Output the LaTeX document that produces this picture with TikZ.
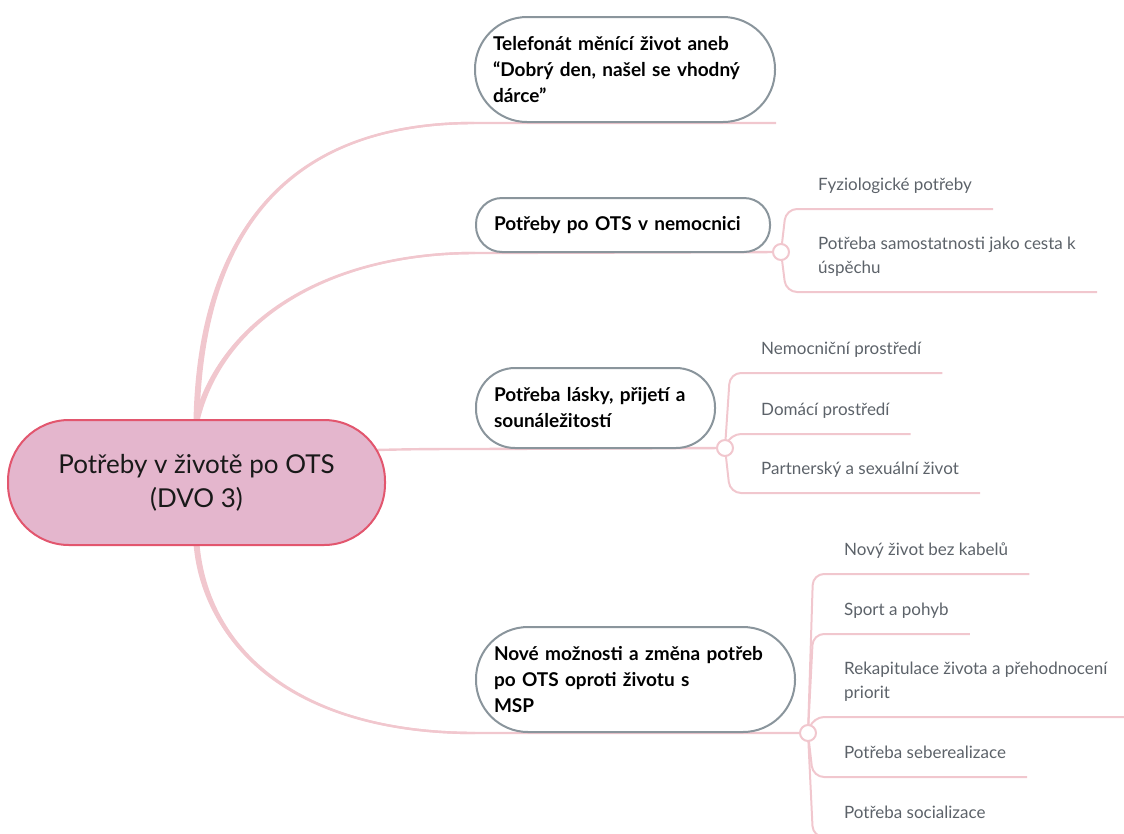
\documentclass[tikz,border=0pt]{standalone}
\usepackage{fontspec}
\setmainfont{Lato}
\usetikzlibrary{calc}
\pgfdeclarelayer{bg}
\pgfsetlayers{bg,main}
\definecolor{lnk}{RGB}{241,199,206}
\definecolor{rootfill}{RGB}{228,182,205}
\definecolor{rootline}{RGB}{226,86,110}
\definecolor{topicline}{RGB}{138,149,156}
\definecolor{subtext}{RGB}{92,98,105}
\begin{document}
\begin{tikzpicture}[x=1pt,y=-1pt,
  rootbox/.style={draw=rootline, fill=rootfill, line width=2pt, rounded corners=61pt,
    minimum width=377pt, minimum height=125pt, align=center, inner sep=0pt,
    font=\fontsize{26}{34}\selectfont, text=black!90},
  topic/.style={draw=topicline, fill=white, line width=2pt, rounded corners=#1,
    align=left, inner xsep=18pt, inner ysep=0pt,
    font=\fontsize{19}{26}\selectfont\bfseries, text=black},
  sub/.style={anchor=south west, align=left, inner xsep=21pt, inner ysep=0pt,
    text depth=18pt, font=\fontsize{17}{24}\selectfont, text=subtext},
  joint/.style={circle, draw=lnk, fill=white, line width=2pt, minimum size=16pt, inner sep=0pt},
  branch/.style={draw=lnk, line width=2.4pt},
  taper/.style={fill=lnk},
  twig/.style={draw=lnk, line width=2pt, rounded corners=11pt}]
\useasboundingbox (0,0) rectangle (1124,833);

% central topic
\node[rootbox] (root) at (196.5,482.5) {Potřeby v životě po OTS\\(DVO 3)};

% main topics
\node[topic=52pt, minimum width=300pt, minimum height=105pt, text width=264pt] (n1) at (625,69.5)
  {Telefonát měnící život aneb\\“Dobrý den, našel se vhodný\\dárce”};
\node[topic=26pt, minimum width=294pt, minimum height=54pt, text width=258pt] (n2) at (623,225)
  {Potřeby po OTS v nemocnici};
\node[topic=39pt, minimum width=239pt, minimum height=80pt, text width=203pt] (n3) at (595.5,408)
  {Potřeba lásky, přijetí a\\sounáležitostí};
\node[topic=52pt, minimum width=319pt, minimum height=105pt, text width=283pt] (n4) at (635.5,679.5)
  {Nové možnosti a změna potřeb\\po OTS oproti životu s\\MSP};

% joints
\node[joint] (c2) at (781,252) {};
\node[joint] (c3) at (725,448) {};
\node[joint] (c4) at (808,733) {};
\coordinate (t2) at (786,252);
\coordinate (t3) at (730,448);
\coordinate (t4) at (813,733);
\coordinate (r3) at (376,450);

% subtopics
\node[sub] (k21) at (797,209) {Fyziologické potřeby};
\node[sub] (k22) at (797,292) {Potřeba samostatnosti jako cesta k\\úspěchu};
\node[sub] (k31) at (740,373) {Nemocniční prostředí};
\node[sub] (k32) at (740,434) {Domácí prostředí};
\node[sub] (k33) at (740,493) {Partnerský a sexuální život};
\node[sub] (k41) at (823,574) {Nový život bez kabelů};
\node[sub] (k42) at (823,634) {Sport a pohyb};
\node[sub] (k43) at (823,717) {Rekapitulace života a přehodnocení\\priorit};
\node[sub] (k44) at (823,777) {Potřeba seberealizace};
\node[sub] (k45) at (823,837) {Potřeba socializace};

\begin{pgfonlayer}{bg}
\clip (0,0) rectangle (1124,833);
% tapered main branches (wide at the central topic)
\fill[taper] ($(root.north)+(-3,2)$) .. controls +(4,-200) and +(-175,0) .. ($(n1.south west)+(0,-1.2)$)
  -- ($(n1.south west)+(0,1.2)$) .. controls +(-175,0) and +(4,-200) .. ($(root.north)+(3,2)$) -- cycle;
\fill[taper] ($(root.north)+(-3,2)$) .. controls +(24,-100) and +(-146,0) .. ($(n2.south west)+(0,-1.2)$)
  -- ($(n2.south west)+(0,1.2)$) .. controls +(-146,0) and +(24,-100) .. ($(root.north)+(3,2)$) -- cycle;
\fill[taper] ($(root.south)+(-3,-2)$) .. controls +(9,105) and +(-176,0) .. ($(n4.south west)+(0,1.2)$)
  -- ($(n4.south west)+(0,-1.2)$) .. controls +(-176,0) and +(9,105) .. ($(root.south)+(3,-2)$) -- cycle;
\draw[branch] (root.north) .. controls +(4,-200) and +(-175,0) .. (n1.south west) -- (n1.south east);
\draw[branch] (root.north) .. controls +(24,-100) and +(-146,0) .. (n2.south west) -- (c2.center);
\draw[branch] (r3) .. controls +(40,-1) and +(-40,0) .. (n3.south west) -- (c3.center);
\draw[branch] (root.south) .. controls +(9,105) and +(-176,0) .. (n4.south west) -- (c4.center);

\draw[twig] (c2.center) -- (t2 |- k21.south west) -- (k21.south east);
\draw[twig] (c2.center) -- (t2 |- k22.south west) -- (k22.south east);
\draw[twig] (c3.center) -- (t3 |- k31.south west) -- (k31.south east);
\draw[twig] (c3.center) -- (t3 |- k32.south west) -- (k32.south east);
\draw[twig] (c3.center) -- (t3 |- k33.south west) -- (k33.south east);
\draw[twig] (c4.center) -- (t4 |- k41.south west) -- (k41.south east);
\draw[twig] (c4.center) -- (t4 |- k42.south west) -- (k42.south east);
\draw[twig] (c4.center) -- (t4 |- k43.south west) -- (k43.south east);
\draw[twig] (c4.center) -- (t4 |- k44.south west) -- (k44.south east);
\draw[twig] (c4.center) -- (t4 |- k45.south west) -- (k45.south east);
\end{pgfonlayer}
\end{tikzpicture}
\end{document}
